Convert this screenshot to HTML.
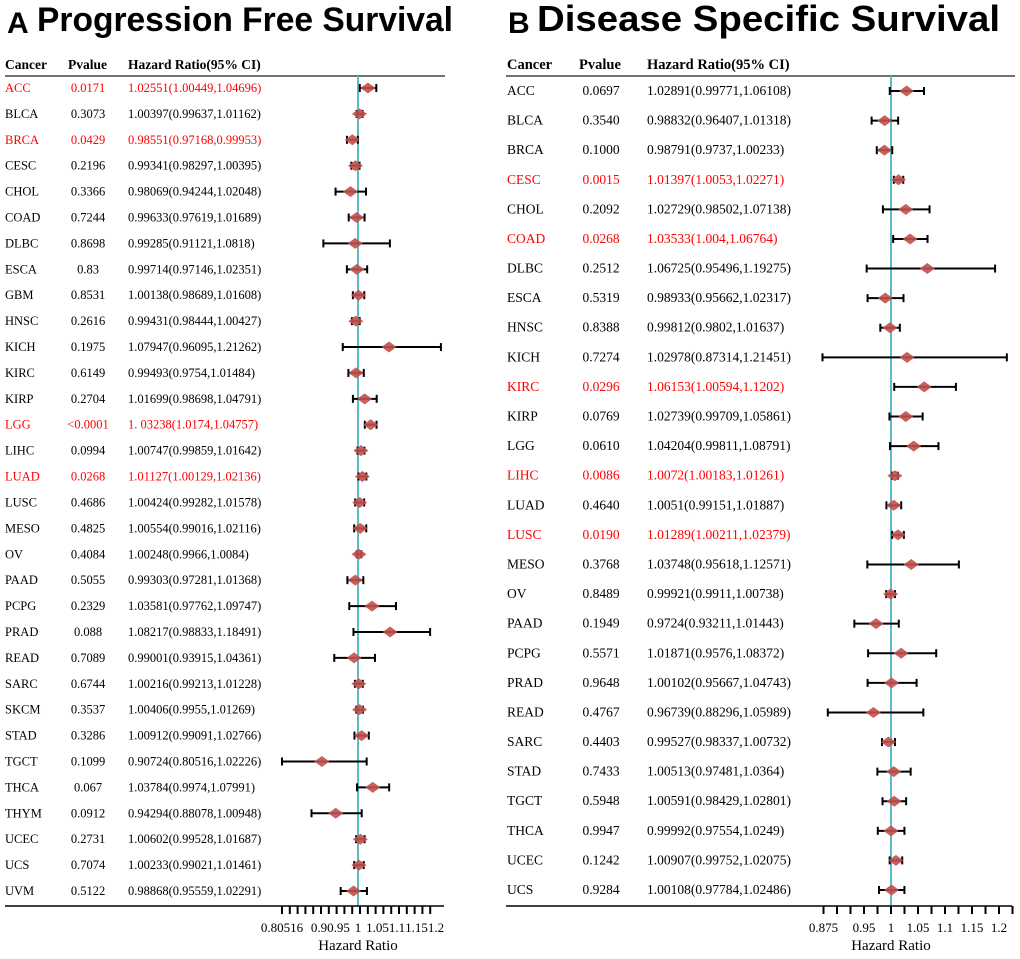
<!DOCTYPE html>
<html><head><meta charset="utf-8"><style>
body{margin:0;background:#fff;}
svg{display:block;font-family:"Liberation Serif",serif;}
.t{font-family:"Liberation Sans",sans-serif;font-weight:bold;}
</style></head><body>
<svg id="s" width="1020" height="959">
<text class="t" x="7" y="33" font-size="30">A</text>
<text class="t" x="37" y="31" font-size="34" textLength="416" lengthAdjust="spacingAndGlyphs">Progression Free Survival</text>
<text class="t" x="508" y="33" font-size="30">B</text>
<text class="t" x="537" y="31" font-size="36" textLength="463" lengthAdjust="spacingAndGlyphs">Disease Specific Survival</text>
</svg>
<script>
const aCancers=["ACC","BLCA","BRCA","CESC","CHOL","COAD","DLBC","ESCA","GBM","HNSC","KICH","KIRC","KIRP","LGG","LIHC","LUAD","LUSC","MESO","OV","PAAD","PCPG","PRAD","READ","SARC","SKCM","STAD","TGCT","THCA","THYM","UCEC","UCS","UVM"];
const aP=["0.0171","0.3073","0.0429","0.2196","0.3366","0.7244","0.8698","0.83","0.8531","0.2616","0.1975","0.6149","0.2704","<0.0001","0.0994","0.0268","0.4686","0.4825","0.4084","0.5055","0.2329","0.088","0.7089","0.6744","0.3537","0.3286","0.1099","0.067","0.0912","0.2731","0.7074","0.5122"];
const aHR=[1.02551,1.00397,0.98551,0.99341,0.98069,0.99633,0.99285,0.99714,1.00138,0.99431,1.07947,0.99493,1.01699,1.03238,1.00747,1.01127,1.00424,1.00554,1.00248,0.99303,1.03581,1.08217,0.99001,1.00216,1.00406,1.00912,0.90724,1.03784,0.94294,1.00602,1.00233,0.98868];
const aLo=[1.00449,0.99637,0.97168,0.98297,0.94244,0.97619,0.91121,0.97146,0.98689,0.98444,0.96095,0.9754,0.98698,1.0174,0.99859,1.00129,0.99282,0.99016,0.9966,0.97281,0.97762,0.98833,0.93915,0.99213,0.9955,0.99091,0.80516,0.9974,0.88078,0.99528,0.99021,0.95559];
const aHi=[1.04696,1.01162,0.99953,1.00395,1.02048,1.01689,1.0818,1.02351,1.01608,1.00427,1.21262,1.01484,1.04791,1.04757,1.01642,1.02136,1.01578,1.02116,1.0084,1.01368,1.09747,1.18491,1.04361,1.01228,1.01269,1.02766,1.02226,1.07991,1.00948,1.01687,1.01461,1.02291];
const aHRtxt=["1.02551(1.00449,1.04696)","1.00397(0.99637,1.01162)","0.98551(0.97168,0.99953)","0.99341(0.98297,1.00395)","0.98069(0.94244,1.02048)","0.99633(0.97619,1.01689)","0.99285(0.91121,1.0818)","0.99714(0.97146,1.02351)","1.00138(0.98689,1.01608)","0.99431(0.98444,1.00427)","1.07947(0.96095,1.21262)","0.99493(0.9754,1.01484)","1.01699(0.98698,1.04791)","1. 03238(1.0174,1.04757)","1.00747(0.99859,1.01642)","1.01127(1.00129,1.02136)","1.00424(0.99282,1.01578)","1.00554(0.99016,1.02116)","1.00248(0.9966,1.0084)","0.99303(0.97281,1.01368)","1.03581(0.97762,1.09747)","1.08217(0.98833,1.18491)","0.99001(0.93915,1.04361)","1.00216(0.99213,1.01228)","1.00406(0.9955,1.01269)","1.00912(0.99091,1.02766)","0.90724(0.80516,1.02226)","1.03784(0.9974,1.07991)","0.94294(0.88078,1.00948)","1.00602(0.99528,1.01687)","1.00233(0.99021,1.01461)","0.98868(0.95559,1.02291)"];
const aRed=["ACC","BRCA","LGG","LUAD"];
const aTicks=["0.80516","0.9","0.95","1","1.05","1.1","1.15","1.2"];

const bCancers=["ACC","BLCA","BRCA","CESC","CHOL","COAD","DLBC","ESCA","HNSC","KICH","KIRC","KIRP","LGG","LIHC","LUAD","LUSC","MESO","OV","PAAD","PCPG","PRAD","READ","SARC","STAD","TGCT","THCA","UCEC","UCS"];
const bP=["0.0697","0.3540","0.1000","0.0015","0.2092","0.0268","0.2512","0.5319","0.8388","0.7274","0.0296","0.0769","0.0610","0.0086","0.4640","0.0190","0.3768","0.8489","0.1949","0.5571","0.9648","0.4767","0.4403","0.7433","0.5948","0.9947","0.1242","0.9284"];
const bHR=[1.02891,0.98832,0.98791,1.01397,1.02729,1.03533,1.06725,0.98933,0.99812,1.02978,1.06153,1.02739,1.04204,1.0072,1.0051,1.01289,1.03748,0.99921,0.9724,1.01871,1.00102,0.96739,0.99527,1.00513,1.00591,0.99992,1.00907,1.00108];
const bLo=[0.99771,0.96407,0.9737,1.0053,0.98502,1.004,0.95496,0.95662,0.9802,0.87314,1.00594,0.99709,0.99811,1.00183,0.99151,1.00211,0.95618,0.9911,0.93211,0.9576,0.95667,0.88296,0.98337,0.97481,0.98429,0.97554,0.99752,0.97784];
const bHi=[1.06108,1.01318,1.00233,1.02271,1.07138,1.06764,1.19275,1.02317,1.01637,1.21451,1.1202,1.05861,1.08791,1.01261,1.01887,1.02379,1.12571,1.00738,1.01443,1.08372,1.04743,1.05989,1.00732,1.0364,1.02801,1.0249,1.02075,1.02486];
const bHRtxt=["1.02891(0.99771,1.06108)","0.98832(0.96407,1.01318)","0.98791(0.9737,1.00233)","1.01397(1.0053,1.02271)","1.02729(0.98502,1.07138)","1.03533(1.004,1.06764)","1.06725(0.95496,1.19275)","0.98933(0.95662,1.02317)","0.99812(0.9802,1.01637)","1.02978(0.87314,1.21451)","1.06153(1.00594,1.1202)","1.02739(0.99709,1.05861)","1.04204(0.99811,1.08791)","1.0072(1.00183,1.01261)","1.0051(0.99151,1.01887)","1.01289(1.00211,1.02379)","1.03748(0.95618,1.12571)","0.99921(0.9911,1.00738)","0.9724(0.93211,1.01443)","1.01871(0.9576,1.08372)","1.00102(0.95667,1.04743)","0.96739(0.88296,1.05989)","0.99527(0.98337,1.00732)","1.00513(0.97481,1.0364)","1.00591(0.98429,1.02801)","0.99992(0.97554,1.0249)","1.00907(0.99752,1.02075)","1.00108(0.97784,1.02486)"];
const bRed=["CESC","COAD","KIRC","LIHC","LUSC"];
const bTicks=["0.875","0.95","1","1.05","1.1","1.15","1.2"];

const S=document.getElementById('s');
const NS="http://www.w3.org/2000/svg";
function mk(tag,at,txt){const e=document.createElementNS(NS,tag);for(const k in at)e.setAttribute(k,at[k]);if(txt!==undefined)e.textContent=txt;S.appendChild(e);return e;}

function panel(o){
  const x=v=>o.x1+(v-1)*o.k;
  const y=i=>o.y0+i*o.dy;
  let h;
  h=mk('text',{x:o.cx,y:69,'font-size':o.fs+1,'font-weight':'bold'},'Cancer');
  
  h=mk('text',{x:o.px,y:69,'font-size':o.fs+1,'font-weight':'bold'},'Pvalue');
  
  h=mk('text',{x:o.hx,y:69,'font-size':o.fs+1,'font-weight':'bold'},'Hazard Ratio(95% CI)');
  
  h=mk('line',{x1:o.lx0,x2:o.lx1,y1:76,y2:76,stroke:'#444','stroke-width':1.5});
  
  h=mk('line',{x1:x(1),x2:x(1),y1:76,y2:o.ay,stroke:'#5bbcc6','stroke-width':2});
  
  o.c.forEach((c,i)=>{
    const col=o.red.includes(c)?'#f00':'#000';const yy=y(i);
    let e=mk('text',{x:o.cx,y:yy+4,'font-size':o.fs,fill:col},c);
    
    e=mk('text',{x:o.pc,y:yy+4,'font-size':o.fs,fill:col,'text-anchor':'middle'},o.pv[i]);
    
    e=mk('text',{x:o.hx,y:yy+4,'font-size':o.fs,fill:col},o.t[i]);
    
    e=mk('line',{x1:x(o.lo[i]),x2:x(o.hi[i]),y1:yy,y2:yy,stroke:'#000','stroke-width':2});
    
    e=mk('line',{x1:x(o.lo[i]),x2:x(o.lo[i]),y1:yy-4,y2:yy+4,stroke:'#000','stroke-width':2});
    
    e=mk('line',{x1:x(o.hi[i]),x2:x(o.hi[i]),y1:yy-4,y2:yy+4,stroke:'#000','stroke-width':2});
    
    const hx=x(o.hr[i]);
    e=mk('polygon',{points:`${hx-7.5},${yy} ${hx},${yy-5.5} ${hx+7.5},${yy} ${hx},${yy+5.5}`,fill:'#c0504d',opacity:0.9});
    
  });
  h=mk('line',{x1:o.lx0,x2:o.ax1,y1:o.ay,y2:o.ay,stroke:'#000','stroke-width':1.5});
  
  for(let v=o.tmin;v<=o.tmax+1e-9;v+=o.ts){
    const t=mk('line',{x1:x(v),x2:x(v),y1:o.ay,y2:o.ay+8,stroke:'#000','stroke-width':2});
    
  }
  o.ticks.forEach(l=>{
    const t=mk('text',{x:x(parseFloat(l)),y:o.ay+26,'font-size':13,'text-anchor':'middle'},l);
    
  });
  h=mk('text',{x:x(1),y:o.ay+44,'font-size':15,'text-anchor':'middle'},'Hazard Ratio');
  
}
panel({p:'a',c:aCancers,pv:aP,hr:aHR,lo:aLo,hi:aHi,t:aHRtxt,red:aRed,ticks:aTicks,
  x1:358,k:390,y0:88,dy:(891-88)/31,fs:12.5,cx:5,px:68,pc:88,hx:128,lx0:5,lx1:445,ay:906,ax1:444,tmin:0.80516,tmax:1.2,ts:0.02});
panel({p:'b',c:bCancers,pv:bP,hr:bHR,lo:bLo,hi:bHi,t:bHRtxt,red:bRed,ticks:bTicks,
  x1:891,k:540,y0:91,dy:(890-91)/27,fs:13.5,cx:507,px:579,pc:601,hx:647,lx0:506,lx1:1015,ay:906,ax1:1012,tmin:0.875,tmax:1.225,ts:0.025});
</script>
</body></html>
